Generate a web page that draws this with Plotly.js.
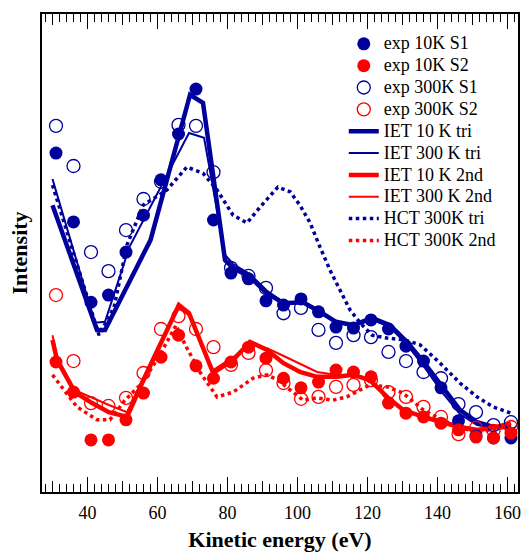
<!DOCTYPE html>
<html>
<head>
<meta charset="utf-8">
<script src="https://cdn.plot.ly/plotly-3.0.1.min.js"></script>
<style>html,body{margin:0;padding:0;background:#fff;}#chart{width:521px;height:552px;}</style>
</head>
<body>
<div id="chart"></div>
<script>
// Experimental energies (eV)
const expEnergy = [31,36,41,46,51,56,61,66,71,76,81,86,91,96,101,106,111,116,121,126,131,136,141,146,151,156,161];
const exp10K_S1 = [70.9,56.5,39.7,41.2,50.2,57.9,65.3,74.9,84.3,56.9,45.8,44.6,40.0,39.1,40.4,37.7,34.5,34.3,36.0,34.1,30.5,27.4,21.8,14.9,11.7,11.3,11.3];
const exp10K_S2 = [27.2,20.9,10.9,10.9,15.1,20.7,28.2,32.8,26.4,23.8,27.2,30.3,28.0,23.8,21.8,23.0,25.5,25.1,24.1,18.6,16.5,15.7,14.4,13.0,11.5,11.3,12.3];
const exp300K_S1 = [76.6,68.2,50.2,46.2,54.8,61.3,64.9,76.8,76.6,66.9,46.9,45.2,42.7,37.4,38.5,33.9,31.2,32.8,32.4,29.3,27.4,25.1,23.8,18.4,16.7,14.0,14.6];
const exp300K_S2 = [41.2,27.4,18.6,18.0,19.7,24.9,34.1,36.8,34.1,30.3,26.6,29.1,25.5,22.8,19.5,19.9,22.0,22.4,23.4,20.9,19.9,17.8,15.7,12.1,13.4,12.8,13.6];

// IET theory, triplet
const ietTriE10 = [30,42.7,45,58,69.3,73,79.3,81.6,86.4,91.3,96,101.6,106.4,111,116,121.3,126.4,131.3,136,141.3,146.4,151.3,156,161];
const iet10K_tri = [60.0,33.9,33.9,52.7,83.1,81.4,48.5,46.9,45.0,41.6,39.5,39.7,37.7,35.6,34.9,36.4,34.9,31.4,27.2,22.0,17.2,14.6,13.6,13.6];
const ietTriE300 = [30,42.1,45,52,69,73.3,79.3,81.6,86.4,91.3,96,101.6,106.4,111,116,121.3,126.4,131.3,136,141.3,146.4,151.3,156,161];
const iet300K_tri = [65.5,35.4,35.6,51.3,75.1,74.1,49.6,47.7,45.6,42.1,39.7,39.5,37.4,35.6,34.7,36.0,34.5,30.8,26.4,20.9,16.3,14.0,13.4,13.4];

// IET theory, 2nd
const iet2ndE = [30,31.3,36.4,41.3,46.1,51.3,55.6,60.4,66.1,69,75.9,81.6,86.4,91.3,95.9,100.7,105.6,111.3,115.9,120.7,125.6,130.1,135.9,141.3,146.4,151.3,155.9,161];
const iet10K_2nd = [31.8,27.6,20.9,18.6,16.7,15.7,22.8,30.3,39.1,37.4,24.9,27.6,31.4,29.7,27.0,25.1,24.1,24.1,24.5,23.4,19.9,17.2,15.7,14.6,13.6,13.0,13.4,14.4];
const iet300K_2nd = [32.8,28.2,21.3,19.7,18.2,16.7,23.4,30.8,38.5,37.0,25.5,28.2,30.8,30.1,28.5,26.8,25.1,24.5,24.5,23.2,19.7,17.2,15.9,14.9,13.8,13.2,13.4,14.2];

// HCT theory
const hctTriE = [30,43.3,47.6,51.3,55.9,62.7,68.4,73,77,81.6,85.6,89.3,94.4,97.9,100.7,103.6,106.4,109.3,112.1,115,117.9,121.3,125.6,130.7,135,140.7,146.4,151.3,155.9,161];
const hct300K_tri = [64.2,32.8,38.7,51.7,60.0,63.2,68.0,66.7,63.2,57.9,56.3,59.6,63.8,62.8,60.0,56.3,51.3,46.4,42.3,38.1,35.4,32.8,32.2,31.8,30.8,27.0,22.8,19.9,17.8,16.5];
const hct2ndE = [30,37,42.7,46.4,50.7,55.6,60.7,65.3,67.9,72.1,77,81.6,87.3,91.3,94.4,97.9,101.6,105.6,110.1,114.1,117.9,120.7,125.6,130.1,135.9,141.3,146.4,151.3,155.9,161];
const hct300K_2nd = [24.5,17.8,15.1,15.1,19.2,22.8,28.7,34.9,30.8,25.1,19.9,20.9,23.8,24.5,23.4,21.3,19.2,19.7,19.2,19.9,21.3,22.4,22.0,20.7,17.2,15.1,13.4,12.6,13.0,14.0];

const xTicks = [40,60,80,100,120,140,160];

const BLUE = '#00009c';
const RED = '#ff0000';
const serif = 'Liberation Serif';
const lg = s => '<span style="font-size:18px">' + s + '</span>';

const traces = [
  {x: ietTriE10, y: iet10K_tri, name: lg('IET 10 K tri'), mode: 'lines', line: {color: BLUE, width: 4.5}, legendrank: 5},
  {x: ietTriE300, y: iet300K_tri, name: lg('IET 300 K tri'), mode: 'lines', line: {color: BLUE, width: 2}, legendrank: 6},
  {x: iet2ndE, y: iet10K_2nd, name: lg('IET 10 K 2nd'), mode: 'lines', line: {color: RED, width: 4.5}, legendrank: 7},
  {x: iet2ndE, y: iet300K_2nd, name: lg('IET 300 K 2nd'), mode: 'lines', line: {color: RED, width: 2}, legendrank: 8},
  {x: hctTriE, y: hct300K_tri, name: lg('HCT 300K tri'), mode: 'lines', line: {color: BLUE, width: 3.5, dash: 'dot'}, legendrank: 9},
  {x: hct2ndE, y: hct300K_2nd, name: lg('HCT 300K 2nd'), mode: 'lines', line: {color: RED, width: 3.5, dash: 'dot'}, legendrank: 10},
  {x: expEnergy, y: exp300K_S1, name: lg('exp 300K S1'), mode: 'markers', marker: {symbol: 'circle-open', size: 13, color: BLUE, line: {width: 1.3}}, legendrank: 3},
  {x: expEnergy, y: exp300K_S2, name: lg('exp 300K S2'), mode: 'markers', marker: {symbol: 'circle-open', size: 13, color: RED, line: {width: 1.3}}, legendrank: 4},
  {x: expEnergy, y: exp10K_S1, name: lg('exp 10K S1'), mode: 'markers', marker: {symbol: 'circle', size: 13, color: BLUE}, legendrank: 1},
  {x: expEnergy, y: exp10K_S2, name: lg('exp 10K S2'), mode: 'markers', marker: {symbol: 'circle', size: 13, color: RED}, legendrank: 2},
  // helper traces so the tick-only axes are drawn
  {x: [27, 163], y: [0, 0], xaxis: 'x2', mode: 'lines', line: {width: 0}, showlegend: false, hoverinfo: 'skip'},
  {x: [27, 163], y: [0, 0], xaxis: 'x3', mode: 'lines', line: {width: 0}, showlegend: false, hoverinfo: 'skip'},
  {x: [27, 163], y: [0, 0], xaxis: 'x4', mode: 'lines', line: {width: 0}, showlegend: false, hoverinfo: 'skip'}
];

const tickOnly = (side, dtick, len) => ({
  overlaying: 'x', anchor: 'y', side: side, range: [27, 163], dtick: dtick, tick0: 0,
  ticks: 'inside', ticklen: len, tickwidth: 1.4, tickcolor: '#000',
  showticklabels: false, showgrid: false, zeroline: false, showline: false
});

const layout = {
  width: 521, height: 552,
  margin: {l: 42, r: 3, t: 14, b: 60},
  paper_bgcolor: '#fff', plot_bgcolor: '#fff',
  font: {family: serif, color: '#000', size: 18},
  showlegend: true,
  legend: {x: 0.634, y: 0.971, xanchor: 'left', yanchor: 'top', bgcolor: 'rgba(0,0,0,0)',
           font: {family: serif, size: 14.5, color: '#000'}, itemwidth: 30, tracegroupgap: 0},
  xaxis: {
    range: [27, 163], tickvals: xTicks, ticktext: xTicks.map(String),
    ticks: 'inside', ticklen: 15, tickwidth: 1.5, tickcolor: '#000',
    showline: true, linewidth: 2, linecolor: '#000', mirror: true,
    showgrid: false, zeroline: false, ticklabelstandoff: 3,
    tickfont: {family: serif, size: 18, color: '#000'},
    minor: {dtick: 2, tick0: 0, ticks: 'inside', ticklen: 8, tickwidth: 1.3, tickcolor: '#000', showgrid: false},
    title: {text: '<b>Kinetic energy (eV)</b>', font: {family: serif, size: 22, color: '#000'}, standoff: 13}
  },
  xaxis2: tickOnly('bottom', 10, 11),
  xaxis3: Object.assign(tickOnly('top', 20, 15), {minor: {dtick: 2, tick0: 0, ticks: 'inside', ticklen: 8, tickwidth: 1.3, tickcolor: '#000', showgrid: false}}),
  xaxis4: tickOnly('top', 10, 11),
  yaxis: {
    range: [0, 100], showticklabels: false, ticks: '', showgrid: false, zeroline: false,
    showline: true, linewidth: 2, linecolor: '#000', mirror: true,
    title: {text: '<b>Intensity</b>', font: {family: serif, size: 22, color: '#000'}, standoff: 6}
  }
};

Plotly.newPlot('chart', traces, layout, {staticPlot: true, displayModeBar: false});
</script>
</body>
</html>
